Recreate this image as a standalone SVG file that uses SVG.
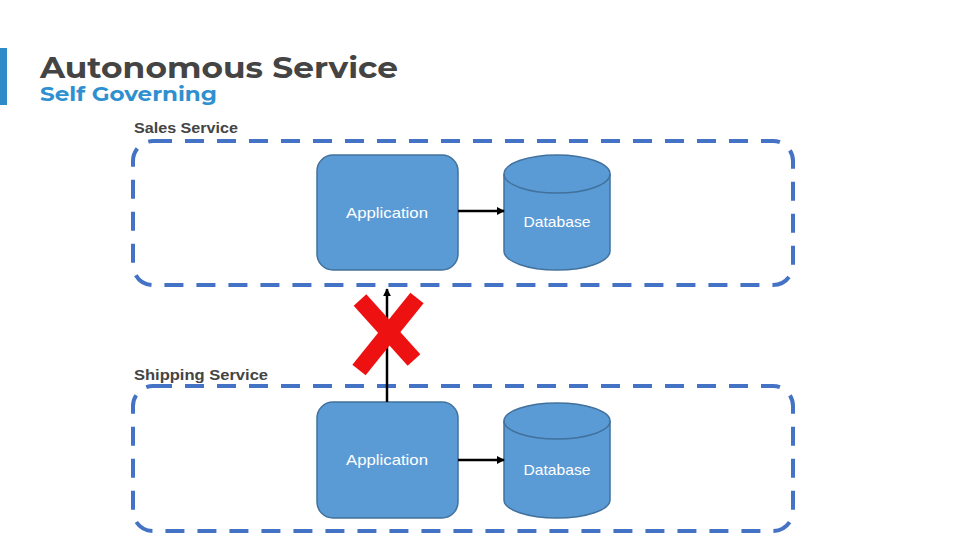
<svg xmlns="http://www.w3.org/2000/svg" width="960" height="540" viewBox="0 0 960 540">
  <style>
    .title { font-family: "Montserrat", "Liberation Sans", Arial, sans-serif; font-weight: bold; }
    .svc { fill: none; stroke: #4472C4; stroke-width: 4; stroke-dasharray: 19 13; }
    .box { fill: #5B9BD5; stroke: #41719C; stroke-width: 1.5; }
    .lbl { font-family: "Liberation Sans", "Open Sans", Arial, sans-serif; font-size: 15px; fill: #ffffff; text-anchor: middle; }
    .sl { font-family: "Liberation Sans", Arial, sans-serif; font-weight: bold; font-size: 15px; fill: #444444; }
    .conn { stroke: #000000; stroke-width: 2.5; fill: none; }
  </style>
  <defs>
    <marker id="ah" viewBox="0 0 10 10" refX="9" refY="5" markerWidth="3.2" markerHeight="3.2" orient="auto">
      <path d="M0,0 L10,5 L0,10 z" fill="#000"/>
    </marker>
  </defs>
  <rect width="960" height="540" fill="#ffffff"/>

  <g id="header">
    <rect x="0" y="48" width="7" height="57" fill="#2E8BC9"/>
    <text class="title" x="40" y="78" font-size="29" fill="#444444" textLength="358" lengthAdjust="spacingAndGlyphs">Autonomous Service</text>
    <text class="title" x="40" y="101" font-size="20" fill="#2E90D0" textLength="177" lengthAdjust="spacingAndGlyphs">Self Governing</text>
  </g>

  <g id="sales-service">
    <text class="sl" x="134" y="133" textLength="104" lengthAdjust="spacingAndGlyphs">Sales Service</text>
    <rect class="svc" x="133" y="141" width="660" height="144" rx="20"/>
  </g>

  <g id="shipping-service">
    <text class="sl" x="134" y="380" textLength="134" lengthAdjust="spacingAndGlyphs">Shipping Service</text>
    <rect class="svc" x="133" y="386" width="660" height="145" rx="20"/>
  </g>

  <g id="sales-app">
    <rect class="box" x="317" y="155" width="141" height="115" rx="16"/>
    <text class="lbl" x="387" y="218" textLength="82" lengthAdjust="spacingAndGlyphs">Application</text>
  </g>

  <g id="sales-db">
    <path class="box" d="M504,174 A53,19 0 0 1 610,174 L610,251 A53,19 0 0 1 504,251 Z"/>
    <path d="M504,174 A53,19 0 0 0 610,174" fill="none" stroke="#41719C" stroke-width="1.5"/>
    <text class="lbl" x="557" y="227" textLength="67" lengthAdjust="spacingAndGlyphs">Database</text>
  </g>

  <g id="shipping-app">
    <rect class="box" x="317" y="402" width="141" height="116" rx="16"/>
    <text class="lbl" x="387" y="465" textLength="82" lengthAdjust="spacingAndGlyphs">Application</text>
  </g>

  <g id="shipping-db">
    <path class="box" d="M504,421 A53,18 0 0 1 610,421 L610,500 A53,18 0 0 1 504,500 Z"/>
    <path d="M504,421 A53,18 0 0 0 610,421" fill="none" stroke="#41719C" stroke-width="1.5"/>
    <text class="lbl" x="557" y="475" textLength="67" lengthAdjust="spacingAndGlyphs">Database</text>
  </g>

  <g id="connectors">
    <line class="conn" x1="458" y1="211" x2="504" y2="211" marker-end="url(#ah)"/>
    <line class="conn" x1="458" y1="460" x2="504" y2="460" marker-end="url(#ah)"/>
    <line class="conn" x1="387" y1="402" x2="387" y2="289" marker-end="url(#ah)"/>
  </g>

  <g id="cross">
    <line x1="360" y1="300" x2="414" y2="360" stroke="#EE1111" stroke-width="17"/>
    <line x1="417" y1="298" x2="359" y2="370" stroke="#EE1111" stroke-width="17"/>
  </g>
</svg>
